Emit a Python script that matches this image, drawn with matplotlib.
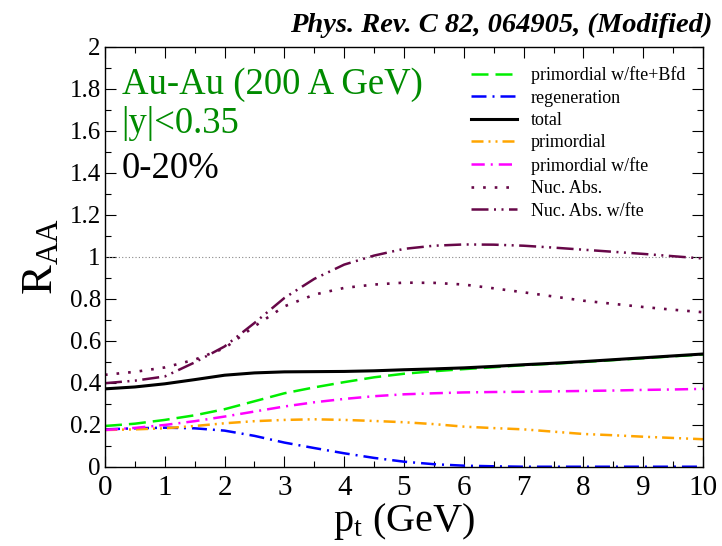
import numpy as np
import matplotlib
matplotlib.use("Agg")
import matplotlib.pyplot as plt

# =========================================
# DATA
# =========================================
pt = [0, 0.5, 1, 1.5, 2, 2.5, 3, 3.5, 4, 4.5, 5, 5.5, 6, 6.5, 7, 7.5, 8, 8.5, 9, 9.5, 10]

total = [0.371, 0.380, 0.395, 0.415, 0.436, 0.447, 0.452, 0.453, 0.454, 0.457, 0.462,
         0.466, 0.471, 0.478, 0.486, 0.493, 0.501, 0.510, 0.519, 0.528, 0.537]
prim_fte_bfd = [0.194, 0.205, 0.223, 0.245, 0.274, 0.312, 0.350, 0.378, 0.403, 0.426, 0.443,
                0.455, 0.465, 0.474, 0.484, 0.491, 0.499, 0.508, 0.517, 0.526, 0.535]
regeneration = [0.178, 0.183, 0.186, 0.183, 0.172, 0.147, 0.115, 0.089, 0.064, 0.042, 0.024,
                0.012, 0.005, 0.002, 0.0, 0.0, 0.0, 0.0, 0.0, 0.0, 0.0]
primordial = [0.175, 0.178, 0.183, 0.194, 0.207, 0.217, 0.223, 0.226, 0.223, 0.218, 0.212,
              0.203, 0.191, 0.184, 0.178, 0.167, 0.156, 0.150, 0.143, 0.137, 0.131]
prim_fte = [0.175, 0.185, 0.199, 0.217, 0.239, 0.263, 0.287, 0.307, 0.323, 0.336, 0.345,
            0.350, 0.354, 0.356, 0.357, 0.359, 0.361, 0.363, 0.366, 0.368, 0.371]
nuc_abs = [0.438, 0.452, 0.473, 0.510, 0.565, 0.669, 0.764, 0.820, 0.852, 0.868, 0.877,
           0.876, 0.868, 0.850, 0.831, 0.811, 0.791, 0.776, 0.761, 0.748, 0.736]
nuc_abs_fte = [0.398, 0.410, 0.430, 0.497, 0.573, 0.685, 0.804, 0.895, 0.963, 1.006, 1.038,
               1.053, 1.059, 1.058, 1.053, 1.044, 1.034, 1.024, 1.014, 1.003, 0.992]

x_ticks = [0, 1, 2, 3, 4, 5, 6, 7, 8, 9, 10]
y_ticks = [0, 0.2, 0.4, 0.6, 0.8, 1.0, 1.2, 1.4, 1.6, 1.8, 2.0]
y_ticklabels = ["0", "0.2", "0.4", "0.6", "0.8", "1", "1.2", "1.4", "1.6", "1.8", "2"]

# =========================================
# STYLE
# =========================================
plt.rcParams["font.family"] = ["Liberation Serif", "DejaVu Serif"]
plt.rcParams["mathtext.fontset"] = "custom"
plt.rcParams["mathtext.rm"] = "Liberation Serif"
plt.rcParams["mathtext.it"] = "Liberation Serif:italic"

MAROON = "#670748"

fig = plt.figure(figsize=(7.22, 5.46), dpi=100)
ax = fig.add_axes([0.1454, 0.1452, 0.8283, 0.7688])

# reference line at R_AA = 1
ax.plot([0, 10], [1, 1], color="#888888", lw=0.8, linestyle=(0, (1, 2)))

ax.plot(pt, prim_fte_bfd, color="#00ee00", lw=1.8, linestyle=(0, (6.8, 2.8)),
        label="primordial w/fte+Bfd")
ax.plot(pt, regeneration, color="#0000ff", lw=1.8, linestyle=(0, (6, 2.4, 0.8, 2.4)),
        label="regeneration")
ax.plot(pt, total, color="black", lw=2.2, label="total")
ax.plot(pt, primordial, color="#ffa500", lw=1.8,
        linestyle=(0, (4.8, 2, 0.8, 2, 0.8, 2)), label="primordial")
ax.plot(pt, prim_fte, color="#ff00ff", lw=1.8, linestyle=(0, (5.3, 2.4, 0.8, 2.4)),
        label="primordial w/fte")
ax.plot(pt, nuc_abs, color=MAROON, lw=1.9, linestyle=(0, (1, 3.4)),
        label="Nuc. Abs.")
ax.plot(pt, nuc_abs_fte, color=MAROON, lw=1.8,
        linestyle=(0, (6.8, 2.2, 0.8, 2.2, 0.8, 2.2)), label="Nuc. Abs. w/fte")

ax.set_xlim(0, 10)
ax.set_ylim(0, 2)
ax.set_xticks(x_ticks)
ax.set_xticklabels([str(v) for v in x_ticks])
ax.set_yticks(y_ticks)
ax.set_yticklabels(y_ticklabels)
ax.set_xticks(np.arange(0, 10.01, 0.5), minor=True)
ax.set_yticks(np.arange(0, 2.001, 0.1), minor=True)

ax.tick_params(which="both", direction="in", top=True, right=True, width=0.8)
ax.tick_params(which="major", length=8)
ax.tick_params(which="minor", length=4.5)
ax.tick_params(axis="x", labelsize=21, pad=6)
ax.tick_params(axis="y", labelsize=18, pad=3)
for sp in ax.spines.values():
    sp.set_linewidth(1.0)

ax.set_xlabel(r"p$_\mathrm{t}$ (GeV)", fontsize=29, labelpad=0)
ax.set_ylabel(r"R$_\mathrm{AA}$", fontsize=32, labelpad=6)

ax.text(0.028, 0.888, "Au-Au (200 A GeV)", transform=ax.transAxes,
        fontsize=26.5, color="#008b00")
ax.text(0.028, 0.795, "|y|<0.35", transform=ax.transAxes,
        fontsize=26.5, color="#008b00")
ax.text(0.028, 0.688, "0-20%", transform=ax.transAxes,
        fontsize=26.5, color="black")

fig.text(0.986, 0.941, "Phys. Rev. C 82, 064905, (Modified)", ha="right",
         fontsize=20.5, fontweight="bold", fontstyle="italic")

ax.legend(loc="upper left", bbox_to_anchor=(0.60, 0.971), frameon=False,
          fontsize=13, handlelength=2.55, handletextpad=0.78, labelspacing=0.3,
          borderaxespad=0.0)

fig.savefig("out.png", dpi=100)
